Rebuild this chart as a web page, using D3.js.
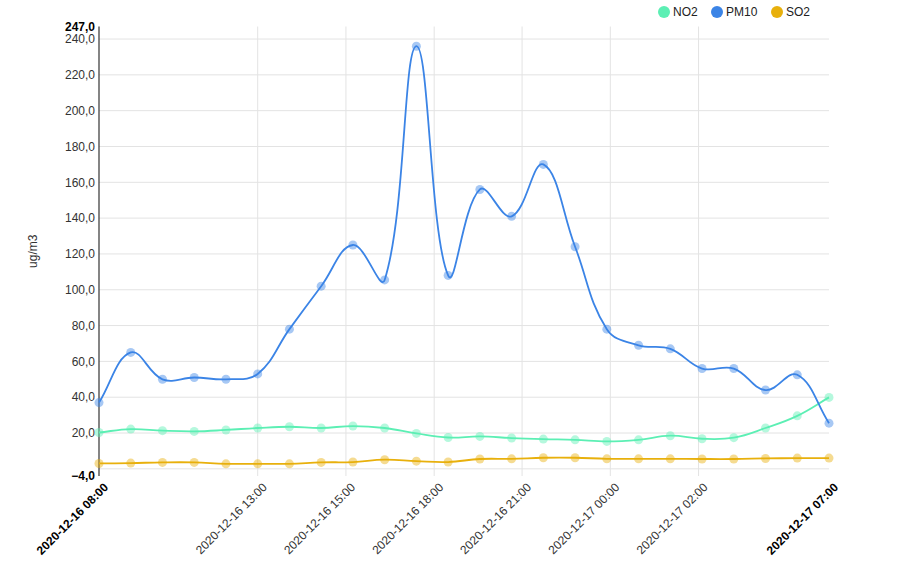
<!DOCTYPE html>
<html><head><meta charset="utf-8">
<script src="https://cdn.jsdelivr.net/npm/d3@7"></script>
<style>
html,body{margin:0;padding:0;background:#fff;}
svg{display:block;font-family:"Liberation Sans",Arial,sans-serif;}
</style></head>
<body><svg id="chart" width="906" height="579"></svg>
<script>
const times = ["2020-12-16 08:00","2020-12-16 09:00","2020-12-16 10:00","2020-12-16 11:00","2020-12-16 12:00","2020-12-16 13:00","2020-12-16 14:00","2020-12-16 15:00","2020-12-16 16:00","2020-12-16 17:00","2020-12-16 18:00","2020-12-16 19:00","2020-12-16 20:00","2020-12-16 21:00","2020-12-16 22:00","2020-12-16 23:00","2020-12-17 00:00","2020-12-17 01:00","2020-12-17 02:00","2020-12-17 03:00","2020-12-17 04:00","2020-12-17 05:00","2020-12-17 06:00","2020-12-17 07:00"];
const no2  = [20.3,22.2,21.3,20.9,21.7,22.8,23.5,22.8,23.9,22.8,19.8,17.5,18.1,17.2,16.6,16.2,15.3,16.2,18.5,16.8,17.4,22.8,29.6,39.9];
const pm10 = [37,65,50,51,50,53,78,102,125,105.5,236,108,156,141,170,124,78,69,67,56,56,44,52.5,25.5];
const so2  = [3.0,3.2,3.6,3.6,2.8,2.8,2.8,3.6,3.8,5.1,4.3,3.8,5.5,5.6,6.2,6.2,5.6,5.6,5.6,5.5,5.5,5.8,6.0,6.0];
const seriesNames = ["NO2","PM10","SO2"];
const seriesColors = ["#5cefb4","#3b84e6","#e8b00c"];
const yTicks = [-4,0,20,40,60,80,100,120,140,160,180,200,220,240,247];
const xTickPos = [0,5,7.78,10.56,13.33,16.11,18.89,23];
const xTickLabels = ["2020-12-16 08:00","2020-12-16 13:00","2020-12-16 15:00","2020-12-16 18:00","2020-12-16 21:00","2020-12-17 00:00","2020-12-17 02:00","2020-12-17 07:00"];
const yTitle = "ug/m3";

const seriesData = [no2, pm10, so2];
const svg = d3.select("#chart");
const L = 99, R = 829, T = 26.5, B = 476;
const x = d3.scaleLinear().domain([0, times.length - 1]).range([L, R]);
const y = d3.scaleLinear().domain([-4, 247]).range([B, T]);
const fmt = v => d3.format(".1f")(v).replace(".", ",");

// Chart.js-like spline curve
function SplineCurve(ctx){ this._context = ctx; }
SplineCurve.prototype = {
  areaStart(){}, areaEnd(){},
  lineStart(){ this._p = []; },
  point(px, py){ this._p.push([+px, +py]); },
  lineEnd(){
    const p = this._p, n = p.length, c = this._context, t = 0.4;
    if (!n) return;
    const cp = p.map((cur, i) => {
      const prev = p[Math.max(0, i-1)], next = p[Math.min(n-1, i+1)];
      const d01 = Math.hypot(cur[0]-prev[0], cur[1]-prev[1]);
      const d12 = Math.hypot(next[0]-cur[0], next[1]-cur[1]);
      let s01 = d01/(d01+d12), s12 = d12/(d01+d12);
      if (isNaN(s01)) s01 = 0; if (isNaN(s12)) s12 = 0;
      const fa = t*s01, fb = t*s12;
      return {
        pin: [cur[0]-fa*(next[0]-prev[0]), Math.min(B, Math.max(T, cur[1]-fa*(next[1]-prev[1])))],
        pout: [cur[0]+fb*(next[0]-prev[0]), Math.min(B, Math.max(T, cur[1]+fb*(next[1]-prev[1])))]
      };
    });
    c.moveTo(p[0][0], p[0][1]);
    for (let i = 1; i < n; i++) {
      c.bezierCurveTo(cp[i-1].pout[0], cp[i-1].pout[1], cp[i].pin[0], cp[i].pin[1], p[i][0], p[i][1]);
    }
  }
};
const splineCurve = ctx => new SplineCurve(ctx);

// horizontal grid
svg.append("g").selectAll("line").data(yTicks.filter(v => v >= 0 && v <= 240)).join("line")
  .attr("x1", L).attr("x2", R).attr("y1", d => y(d)).attr("y2", d => y(d))
  .attr("stroke", "#e3e3e3").attr("stroke-width", 1);
// vertical grid
svg.append("g").selectAll("line").data(xTickPos.slice(1, -1)).join("line")
  .attr("x1", d => x(d)).attr("x2", d => x(d)).attr("y1", T).attr("y2", B)
  .attr("stroke", "#e3e3e3").attr("stroke-width", 1);

// y axis line
svg.append("line").attr("x1", L).attr("x2", L).attr("y1", T).attr("y2", B)
  .attr("stroke", "#333").attr("stroke-width", 1.2);

// y tick labels
svg.append("g").selectAll("text").data(yTicks.filter(v => v !== 0)).join("text")
  .attr("x", L - 4).attr("y", d => y(d)).attr("dy", "0.35em")
  .attr("text-anchor", "end").attr("font-size", 12)
  .attr("font-weight", d => (d === -4 || d === 247) ? "bold" : "normal")
  .attr("fill", d => (d === -4 || d === 247) ? "#000" : "#333")
  .text(d => fmt(d));

// x tick labels
svg.append("g").selectAll("text").data(xTickPos).join("text")
  .attr("transform", d => `translate(${x(d) + 7},${B + 9}) rotate(-45)`)
  .attr("text-anchor", "end").attr("dy", "0.35em").attr("font-size", 12)
  .attr("font-weight", (d, i) => (i === 0 || i === xTickPos.length - 1) ? "bold" : "normal")
  .attr("fill", (d, i) => (i === 0 || i === xTickPos.length - 1) ? "#000" : "#333")
  .text((d, i) => xTickLabels[i]);

// y title
svg.append("text").attr("transform", `translate(37,${(T + B) / 2}) rotate(-90)`)
  .attr("text-anchor", "middle").attr("font-size", 12).attr("fill", "#333").text(yTitle);

// series
const line = d3.line().x((d, i) => x(i)).y(d => y(d)).curve(splineCurve);
seriesData.forEach((data, si) => {
  const g = svg.append("g");
  g.append("path").datum(data).attr("d", line)
    .attr("fill", "none").attr("stroke", seriesColors[si]).attr("stroke-width", 1.8);
  g.selectAll("circle").data(data).join("circle")
    .attr("cx", (d, i) => x(i)).attr("cy", d => y(d)).attr("r", 4.5)
    .attr("fill", seriesColors[si]).attr("fill-opacity", 0.45);
});

// legend
const legendX = [664, 717, 777];
const lg = svg.append("g").selectAll("g").data(seriesNames).join("g")
  .attr("transform", (d, i) => `translate(${legendX[i]},12)`);
lg.append("circle").attr("r", 6).attr("fill", (d, i) => seriesColors[i]);
lg.append("text").attr("x", 9).attr("dy", "0.35em").attr("font-size", 12).attr("fill", "#222").text(d => d);
</script></body></html>
